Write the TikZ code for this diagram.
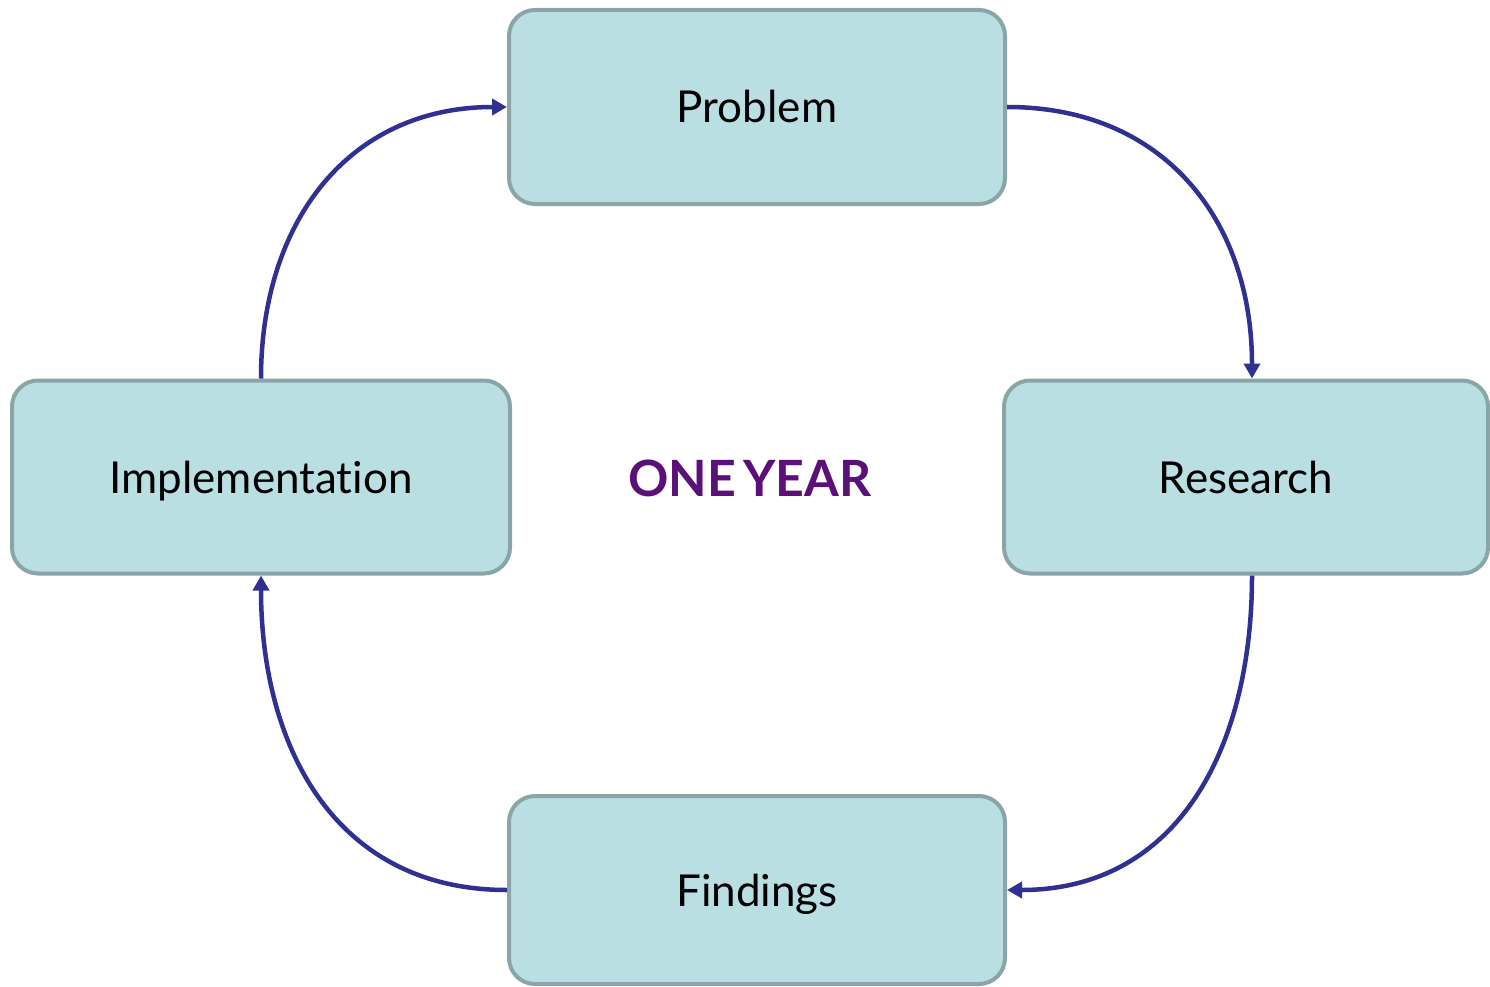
\documentclass[tikz,border=0pt]{standalone}
\usepackage{fontspec}
\setmainfont{Lato}[Ligatures=NoCommon]
\usetikzlibrary{arrows.meta}
\definecolor{boxfill}{HTML}{B9DFE2}
\definecolor{boxline}{HTML}{8AA5A8}
\definecolor{arrowblue}{HTML}{2E3192}
\definecolor{yearpurple}{HTML}{5B0F78}
\begin{document}
\begin{tikzpicture}[x=1pt,y=-1pt,
    box/.style={draw=boxline, fill=boxfill, line width=4pt, rounded corners=26pt, inner sep=0pt, text height=32pt, text depth=0pt, font=\fontsize{44}{50}\selectfont},
    cycle/.style={draw=arrowblue, line width=4.5pt, looseness=1.1, -{Triangle[length=15pt,width=16pt]}}]
    \useasboundingbox (0,0) rectangle (1490,987);
    \node[box, minimum width=496pt, minimum height=194pt] (problem) at (757,107) {Problem};
    \node[box, minimum width=484pt, minimum height=193pt] (research) at (1246,477) {Research};
    \node[box, minimum width=496pt, minimum height=188pt] (findings) at (757,890) {Findings};
    \node[box, minimum width=498pt, minimum height=193pt] (impl) at (261,477) {Implementation};
    \node[font=\fontsize{50}{56}\selectfont\bfseries, text=yearpurple] (year) at (750,478) {ONE\hspace{0.15em}YEAR};
    \draw[cycle] (problem.east) to[out=0, in=90] (research.north -| 1252,0);
    \draw[cycle] (research.south -| 1252,0) to[out=-90, in=0] (findings.east);
    \draw[cycle] (findings.west) to[out=180, in=-90] (impl.south);
    \draw[cycle] (impl.north) to[out=90, in=180] (problem.west);
\end{tikzpicture}
\end{document}
